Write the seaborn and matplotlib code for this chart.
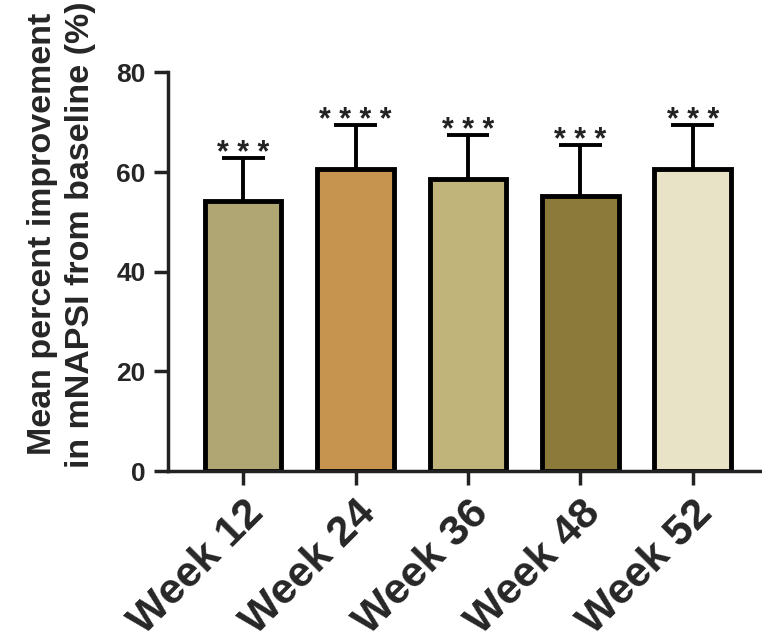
import matplotlib
matplotlib.use("Agg")
import matplotlib.pyplot as plt
import seaborn as sns
import pandas as pd

categories = ["Week 12", "Week 24", "Week 36", "Week 48", "Week 52"]
means = [54.2, 60.6, 58.6, 55.2, 60.6]
err_upper = [62.8, 69.4, 67.4, 65.4, 69.4]
stars = ["***", "****", "***", "***", "***"]
colors = ["#b0a674", "#c79450", "#c0b47a", "#8c7a3a", "#e8e2c6"]
yticks = [0, 20, 40, 60, 80]

sns.set_style("ticks")
plt.rcParams['font.family'] = ['Liberation Sans', 'DejaVu Sans']

df = pd.DataFrame({"week": categories, "mean": means})

fig = plt.figure(figsize=(7.62, 6.44), dpi=100)
ax = fig.add_axes([0.2205, 0.2686, 0.777, 0.619])

sns.barplot(data=df, x="week", y="mean", hue="week", palette=colors,
            saturation=1, legend=False, width=0.68, edgecolor="black",
            linewidth=3.5, ax=ax, zorder=2)

for i, (m, e, s) in enumerate(zip(means, err_upper, stars)):
    ax.vlines(i, m, e, color="black", lw=2.8, zorder=1)
    ax.hlines(e, i - 0.19, i + 0.19, color="black", lw=2.8, zorder=1)
    ax.text(i, e - 2.1, " ".join(s), ha="center", va="bottom", fontsize=22,
            fontweight="bold", color="#222222")

ax.set_xlim(-0.67, 4.6)
ax.set_ylim(0, 80)
ax.set_yticks(yticks)
ax.set_yticklabels([str(t) for t in yticks], fontsize=19, fontweight="bold")
ax.set_xticks(range(len(categories)))
ax.set_xticklabels(categories, rotation=45, ha="right", rotation_mode="anchor",
                   fontsize=31, fontweight="bold")
ax.set_xlabel("")
ax.set_ylabel("Mean percent improvement\nin mNAPSI from baseline (%)",
              fontsize=24.5, fontweight="bold", linespacing=1.3)
ax.yaxis.set_label_coords(-0.122, 0.594)

for side in ["top", "right"]:
    ax.spines[side].set_visible(False)
for side in ["left", "bottom"]:
    ax.spines[side].set_linewidth(2.5)
    ax.spines[side].set_color("#222222")
ax.tick_params(axis="both", width=2.5, length=10, color="#222222")
ax.tick_params(axis="x", pad=6)
ax.tick_params(axis="y", pad=6)

fig.savefig("out.png", dpi=100)
